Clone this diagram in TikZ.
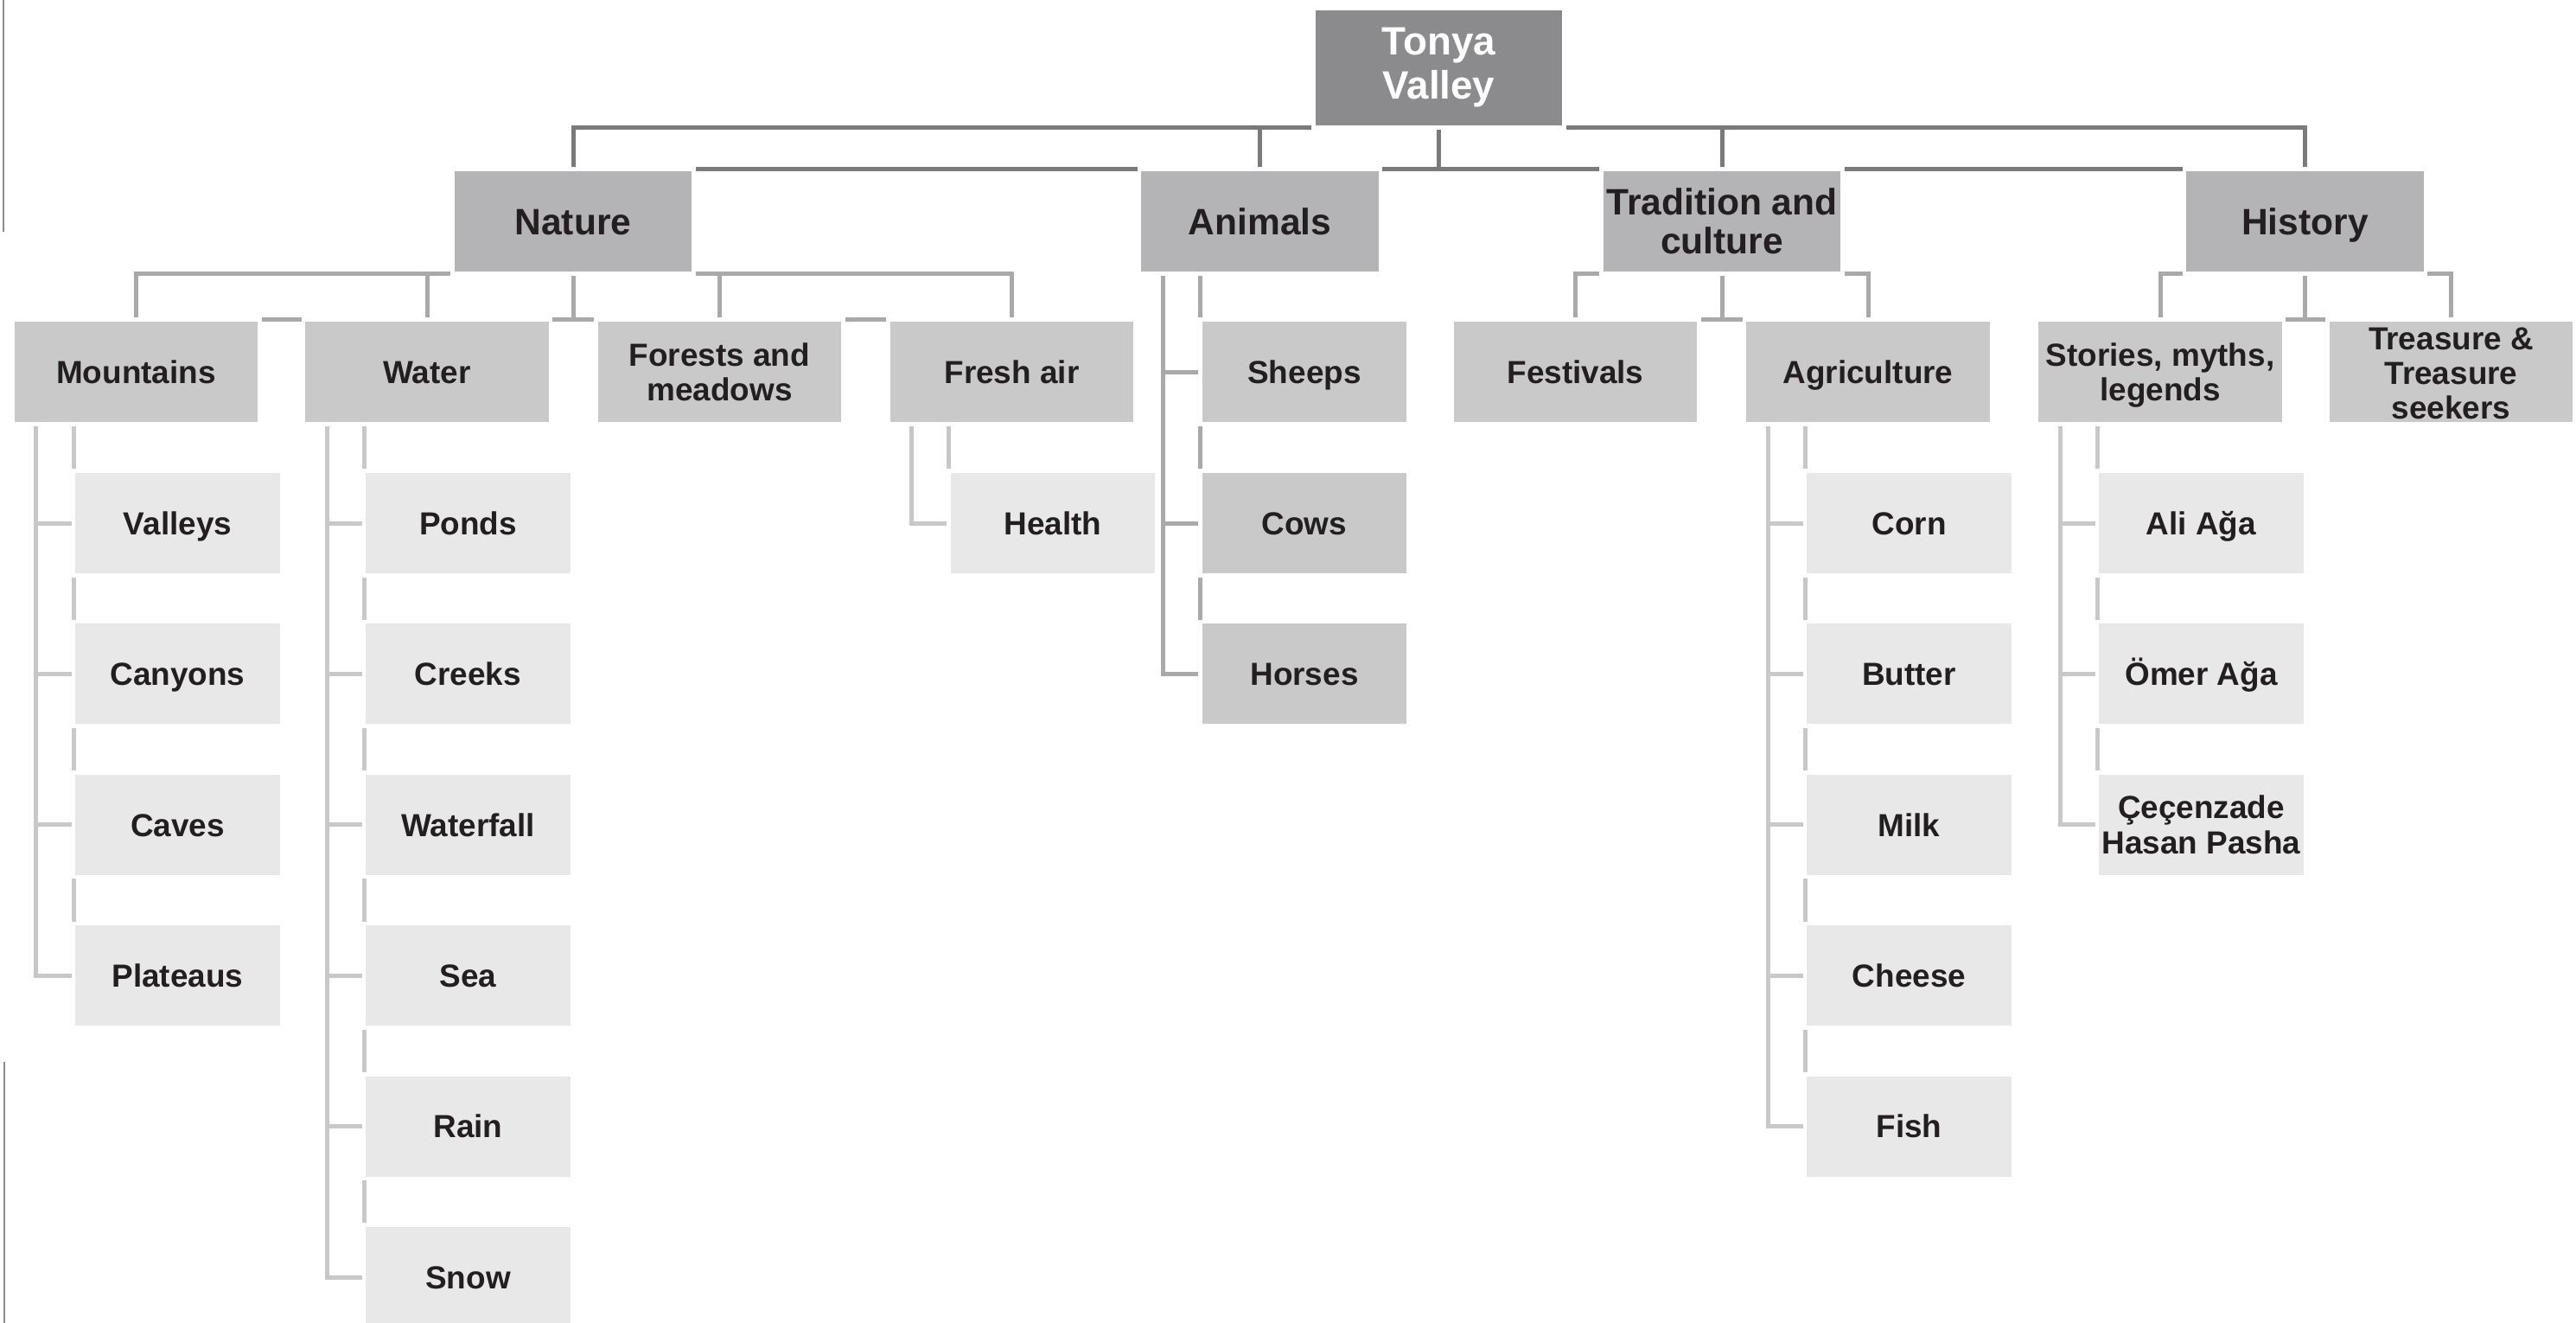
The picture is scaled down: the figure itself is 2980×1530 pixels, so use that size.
\documentclass[tikz,border=0pt]{standalone}
\usepackage{fontspec}
\setmainfont{Liberation Sans}
\usetikzlibrary{calc,backgrounds}
\definecolor{fillA}{HTML}{8B8A8D}
\definecolor{fillB}{HTML}{B4B4B6}
\definecolor{fillC}{HTML}{C9C9C9}
\definecolor{fillD}{HTML}{E8E8E8}
\definecolor{lineA}{HTML}{7A7A7B}
\definecolor{lineB}{HTML}{A9A9AA}
\definecolor{lineC}{HTML}{C8C8C8}
\definecolor{txt}{HTML}{231F20}
\definecolor{edgeline}{HTML}{8A8A8A}
\newcommand\boxstrut{\vrule width 0pt height 0.92em depth 0.2em\relax}
\begin{document}
\begin{tikzpicture}[x=0.01cm,y=-0.01cm,
  box/.style={rectangle, draw=white, line width=0.045cm, outer sep=0pt, inner sep=0pt, align=center, text=txt},
  oneline/.style={execute at begin node=\boxstrut},
  lvA/.style={box, fill=fillA, text=white, minimum width=2.895cm, minimum height=1.375cm, font=\bfseries\fontsize{13}{14.5}\selectfont},
  lvB/.style={box, fill=fillB, minimum width=2.785cm, minimum height=1.205cm, font=\bfseries\fontsize{12.1}{12.8}\selectfont},
  lvC/.style={box, fill=fillC, minimum width=2.855cm, minimum height=1.205cm, font=\bfseries\fontsize{10.5}{11.4}\selectfont},
  lvCs/.style={box, fill=fillC, minimum width=2.405cm, minimum height=1.205cm, font=\bfseries\fontsize{10.5}{11.4}\selectfont},
  lvD/.style={box, fill=fillD, minimum width=2.405cm, minimum height=1.205cm, font=\bfseries\fontsize{10.5}{11.4}\selectfont},
  cA/.style={draw=lineA, line width=0.05cm},
  cB/.style={draw=lineB, line width=0.05cm},
  cC/.style={draw=lineC, line width=0.05cm},
  pageedge/.style={draw=edgeline, line width=0.02cm}
]
\useasboundingbox (0,0) rectangle (2980,1530);

% level 0 and 1
\node[lvA] (tv) at (1664.5,78.5) {Tonya\\Valley};
\node[lvB,oneline] (nat) at (663,256) {Nature};
\node[lvB,oneline] (ani) at (1457.5,256) {Animals};
\node[lvB] (tra) at (1992,256) {Tradition and\\culture};
\node[lvB,oneline] (his) at (2666.5,256) {History};

% level 2
\node[lvC,oneline] (mtn) at (157.5,430) {Mountains};
\node[lvC,oneline] (wat) at (494,430) {Water};
\node[lvC] (for) at (832.5,430) {Forests and\\meadows};
\node[lvC,oneline] (fre) at (1170.5,430) {Fresh air};
\node[lvC,oneline] (fes) at (1822.5,430) {Festivals};
\node[lvC,oneline] (agr) at (2161,430) {Agriculture};
\node[lvC] (sto) at (2499,430) {\rule{0pt}{0.93em}Stories, myths,\\legends};
\node[lvC] (tre) at (2835.5,430) {\rule{0pt}{0.8em}Treasure \&\\Treasure\\seekers};

% animals
\node[lvCs,oneline] (she) at (1509,430) {Sheeps};
\node[lvCs,oneline] (cow) at (1509,605) {Cows};
\node[lvCs,oneline] (hor) at (1509,779.4) {Horses};

% mountains
\node[lvD,oneline] (val) at (205.5,605) {Valleys};
\node[lvD,oneline] (can) at (205.5,779.4) {Canyons};
\node[lvD,oneline] (cav) at (205.5,953.8) {Caves};
\node[lvD,oneline] (pla) at (205.5,1128.2) {Plateaus};

% water
\node[lvD,oneline] (pon) at (541.5,605) {Ponds};
\node[lvD,oneline] (cre) at (541.5,779.4) {Creeks};
\node[lvD,oneline] (waf) at (541.5,953.8) {Waterfall};
\node[lvD,oneline] (sea) at (541.5,1128.2) {Sea};
\node[lvD,oneline] (rai) at (541.5,1302.6) {Rain};
\node[lvD,oneline] (sno) at (541.5,1477) {Snow};

% fresh air
\node[lvD,oneline] (hea) at (1218,605) {Health};

% agriculture
\node[lvD,oneline] (cor) at (2208.5,605) {Corn};
\node[lvD,oneline] (but) at (2208.5,779.4) {Butter};
\node[lvD,oneline] (mil) at (2208.5,953.8) {Milk};
\node[lvD,oneline] (che) at (2208.5,1128.2) {Cheese};
\node[lvD,oneline] (fis) at (2208.5,1302.6) {Fish};

% stories
\node[lvD,oneline] (ali) at (2546.5,605) {Ali Ağa};
\node[lvD,oneline] (ome) at (2546.5,779.4) {Ömer Ağa};
\node[lvD] (cec) at (2546.5,953.8) {Çeçenzade\\Hasan Pasha};

\begin{scope}[on background layer]
  \fill[white] (0,0) rectangle (2980,1530);
  % page edge marks
  \draw[pageedge] (4,0) -- (4,268);
  \draw[pageedge] (5,1228) -- (5,1530);

  % Tonya Valley -> level 1
  \draw[cA] (nat.north) -- (nat |- tv.south) -- (his |- tv.south) -- (his.north);
  \draw[cA] (nat.north) -- (his.north);
  \draw[cA] (ani |- tv.south) -- (ani.north);
  \draw[cA] (tra |- tv.south) -- (tra.north);
  \draw[cA] (tv.south) -- (tv |- nat.north);

  % Nature -> level 2
  \draw[cB] (mtn.north) -- (mtn |- nat.south) -- (fre |- nat.south) -- (fre.north);
  \draw[cB] (mtn.north) -- (fre.north);
  \draw[cB] (wat |- nat.south) -- (wat.north);
  \draw[cB] (for |- nat.south) -- (for.north);
  \draw[cB] (nat.south) -- (nat |- mtn.north);

  % Tradition -> level 2
  \draw[cB] (fes.north) -- (fes |- tra.south) -- (agr |- tra.south) -- (agr.north);
  \draw[cB] (fes.north) -- (agr.north);
  \draw[cB] (tra.south) -- (tra |- fes.north);

  % History -> level 2
  \draw[cB] (sto.north) -- (sto |- his.south) -- (tre |- his.south) -- (tre.north);
  \draw[cB] (sto.north) -- (tre.north);
  \draw[cB] (his.south) -- (his |- sto.north);

  % Animals list
  \coordinate (aniA) at ($(ani.south west)+(27.25,0)$);
  \draw[cB] (aniA) -- (aniA |- hor.west) -- (hor.west);
  \draw[cB] (aniA) -- (she.west |- aniA) -- (hor.west);
  \foreach \c in {she,cow} \draw[cB] (aniA |- \c.west) -- (\c.west);

  % Mountains list
  \coordinate (mtnA) at ($(mtn.south west)+(27.25,0)$);
  \draw[cC] (mtnA) -- (mtnA |- pla.west) -- (pla.west);
  \draw[cC] (mtnA) -- (val.west |- mtnA) -- (pla.west);
  \foreach \c in {val,can,cav} \draw[cC] (mtnA |- \c.west) -- (\c.west);

  % Water list
  \coordinate (watA) at ($(wat.south west)+(27.25,0)$);
  \draw[cC] (watA) -- (watA |- sno.west) -- (sno.west);
  \draw[cC] (watA) -- (pon.west |- watA) -- (sno.west);
  \foreach \c in {pon,cre,waf,sea,rai} \draw[cC] (watA |- \c.west) -- (\c.west);

  % Fresh air list
  \coordinate (freA) at ($(fre.south west)+(27.25,0)$);
  \draw[cC] (freA) -- (freA |- hea.west) -- (hea.west);
  \draw[cC] (freA) -- (hea.west |- freA) -- (hea.west);

  % Agriculture list
  \coordinate (agrA) at ($(agr.south west)+(27.25,0)$);
  \draw[cC] (agrA) -- (agrA |- fis.west) -- (fis.west);
  \draw[cC] (agrA) -- (cor.west |- agrA) -- (fis.west);
  \foreach \c in {cor,but,mil,che} \draw[cC] (agrA |- \c.west) -- (\c.west);

  % Stories list
  \coordinate (stoA) at ($(sto.south west)+(27.25,0)$);
  \draw[cC] (stoA) -- (stoA |- cec.west) -- (cec.west);
  \draw[cC] (stoA) -- (ali.west |- stoA) -- (cec.west);
  \foreach \c in {ali,ome} \draw[cC] (stoA |- \c.west) -- (\c.west);
\end{scope}
\end{tikzpicture}
\end{document}
